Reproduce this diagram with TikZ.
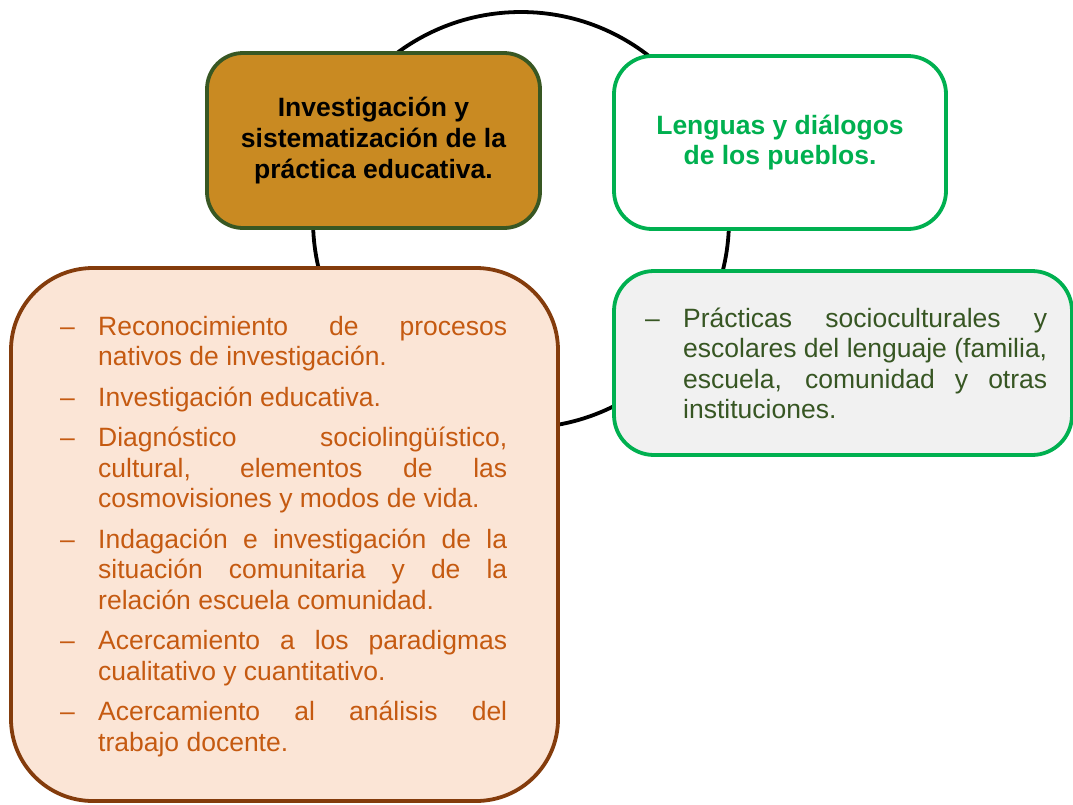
\documentclass[tikz,border=0pt]{standalone}
\usepackage{fontspec}
\setmainfont{Liberation Sans}
\definecolor{goldfill}{HTML}{C98A22}
\definecolor{olivedraw}{HTML}{385723}
\definecolor{brightgreen}{HTML}{00B050}
\definecolor{peachfill}{HTML}{FBE5D6}
\definecolor{browndraw}{HTML}{843C0C}
\definecolor{orangetext}{HTML}{C55A11}
\definecolor{greytint}{HTML}{F1F1F1}
\definecolor{darkgreentext}{HTML}{375623}
\newcommand{\itm}[1]{\hangindent=38pt\hangafter=1\noindent\makebox[38pt][l]{\strut–}#1\par}
\tikzset{
  boxbase/.style={rectangle, line width=3.8pt, inner sep=0pt},
  titlefont/.style={font=\fontsize{26.5}{30.8}\selectfont\bfseries, align=center},
  listtext/.style={inner sep=0pt, anchor=north west, align=justify,
    font=\fontsize{26.5}{30.5}\selectfont},
}
\begin{document}
\begin{tikzpicture}[x=1pt,y=-1pt]
\useasboundingbox (0,0) rectangle (1073,804);
\node[draw=black, line width=3.8pt, circle, minimum size=416pt, inner sep=0pt] (ring) at (521,220) {};
% left big list box
\node[boxbase, draw=browndraw, fill=peachfill, rounded corners=82pt,
      minimum width=547pt, minimum height=533pt] (leftbox) at (284.5,534.5) {};
\node[listtext, text width=447pt, text=orangetext] (lefttext) at (60,313.6) {%
\setlength{\parskip}{10pt}\setlength{\parindent}{0pt}\rightskip=0pt\parfillskip=0pt plus 1fil\tolerance=10000\hyphenpenalty=10000\hbadness=10000
\itm{Reconocimiento de procesos\linebreak nativos de investigación.}
\itm{Investigación educativa.}
\itm{Diagnóstico sociolingüístico,\linebreak cultural, elementos de las\linebreak cosmovisiones y modos de vida.}
\itm{Indagación e investigación de la\linebreak situación comunitaria y de la\linebreak relación escuela comunidad.}
\itm{Acercamiento a los paradigmas\linebreak cualitativo y cuantitativo.}
\itm{Acercamiento al análisis del\linebreak trabajo docente.}};
% right list box
\node[boxbase, draw=brightgreen, fill=greytint, rounded corners=40pt,
      minimum width=458pt, minimum height=184pt] (rightbox) at (843,363) {};
\node[listtext, text width=402pt, text=darkgreentext] (righttext) at (645,305.6) {%
\setlength{\parskip}{10pt}\setlength{\parindent}{0pt}\rightskip=0pt\parfillskip=0pt plus 1fil\tolerance=10000\hyphenpenalty=10000\hbadness=10000
\itm{Prácticas socioculturales y\linebreak escolares del lenguaje (familia,\linebreak escuela, comunidad y otras\linebreak instituciones.}};
% title boxes
\node[boxbase, draw=olivedraw, fill=goldfill, rounded corners=36pt,
      minimum width=333pt, minimum height=175pt, titlefont, text=black] (invest) at (373.5,140.5)
  {Investigación y\\sistematización de la\\práctica educativa.};
\node[boxbase, draw=brightgreen, fill=white, rounded corners=38pt,
      minimum width=332pt, minimum height=173pt, titlefont, text=brightgreen] (lenguas) at (780,142.5)
  {Lenguas y diálogos\\de los pueblos.};
\end{tikzpicture}
\end{document}
